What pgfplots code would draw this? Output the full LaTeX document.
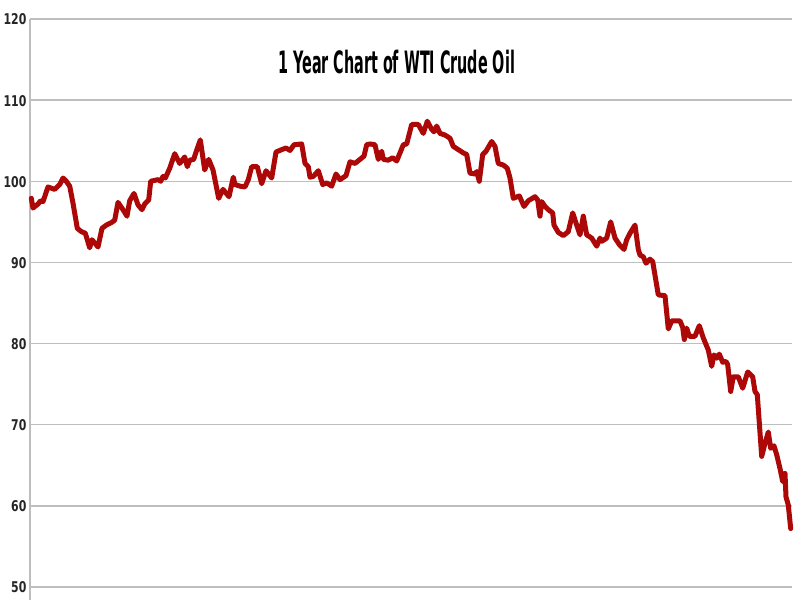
\documentclass[border=0pt]{standalone}
\usepackage{pgfplots}
\pgfplotsset{compat=1.18}
\usepackage{fontspec}
\setmainfont{DejaVu Sans}
\newfontfamily\condfont{DejaVu Sans Condensed}
\definecolor{gridgray}{RGB}{190,190,190}
\definecolor{oilred}{RGB}{172,8,8}
\begin{document}
\begin{tikzpicture}
\begin{axis}[
  scale only axis, width=381pt, height=290.5pt,
  xmin=30, xmax=792, ymin=48.4, ymax=120,
  axis x line=none, axis y line=left,
  y axis line style={-, draw=gridgray, line width=0.75pt},
  ytick={50,60,...,120}, ymajorgrids,
  grid style={gridgray, line width=0.75pt},
  major tick length=0pt,
  /pgf/number format/assume math mode=true,
  yticklabel={\scalebox{0.82}[1]{\pgfmathprintnumber{\tick}}},
  yticklabel style={font=\condfont\bfseries\fontsize{7.4}{8}\selectfont, inner sep=0pt, xshift=-1.6pt, yshift=-0.3pt, text=black!85},
  clip=false,
]
\coordinate (sw) at (rel axis cs:0,0);
\coordinate (ne) at (rel axis cs:1,1);
\addplot[oilred, line width=2.5pt, line join=round, line cap=round] coordinates {
(31.3,97.9)(33,96.7)(38,97.2)(40.7,97.6)(43,97.5)(48,99.3)(54.7,99.0)(59.7,99.6)(63,100.4)(66.3,100.0)(69.7,99.4)(73,97.3)(77.3,94.2)(81.3,93.8)(85.3,93.6)(87.3,92.8)(89.7,91.8)(92,92.8)(94.7,92.4)(98,91.9)(102,94.2)(106.3,94.6)(111.3,94.9)(114.7,95.2)(118,97.4)(123,96.5)(127,95.7)(129.7,97.6)(134,98.5)(138,97.1)(142,96.5)(144.7,97.2)(148.7,97.7)(150.7,100.0)(158,100.2)(160.7,100.0)(163,100.6)(165.3,100.4)(169.7,101.6)(174.7,103.4)(179.7,102.2)(184.7,103.0)(187.3,101.8)(189.7,102.6)(193.7,102.7)(196.3,103.7)(200.3,105.1)(204.7,101.4)(208.7,102.7)(213,101.4)(218.7,97.9)(223,99.0)(229,98.1)
(233.3,100.5)(235,99.6)(240,99.4)(245,99.3)(248.3,100.2)(251.7,101.8)(257.3,101.8)(261.7,99.7)(266,101.3)(271.7,100.4)(276,103.6)(281.7,103.9)(286,104.1)(290,103.8)(294,104.5)(301.7,104.6)(305,102.2)(308.3,101.8)(310,100.5)(313.3,100.6)(318.3,101.3)(322.7,99.6)(326.7,99.8)(331.7,99.4)(336,100.9)(340,100.2)(346,100.7)(350,102.4)(355,102.2)(360,102.7)(364,103.1)(366.7,104.5)(370,104.6)(375,104.5)(378.3,102.7)(381.7,103.7)(383.3,102.7)(388.3,102.6)(392.7,102.9)(396.7,102.5)(400,103.5)(403.3,104.5)(406.7,104.6)(411.7,107.0)(418.3,107.0)(423.3,105.9)(427.3,107.4)(431.7,106.4)
(434,106.1)(436.7,106.8)(440,105.9)(445,105.7)(450,105.3)(453.3,104.3)(458.3,103.9)(463.3,103.5)(466.7,103.3)(468.3,102.2)(470,101.0)(475,100.9)(476.7,101.2)(479.3,100.0)(482.7,103.3)(486,103.7)(491.7,104.9)(495,104.3)(498.3,102.2)(503.3,102.0)(507.3,101.6)(510,100.4)(513.3,97.9)(519.3,98.2)(524,96.9)(528.3,97.6)(535,98.1)(537.7,97.7)(540,95.7)(541.7,97.5)(545,96.9)(548.3,96.5)(552.7,96.1)(554,94.6)(558.3,93.7)(563.3,93.3)(568.3,93.8)(572.7,96.1)(576.7,94.6)(580,93.4)(583.3,95.7)(586.7,93.4)(591.7,93.0)(596.7,92.0)(600,93.0)(601.7,92.6)(606.7,93.0)(610.7,95.0)(615,93.0)(619.3,92.2)(624,91.6)(626.7,92.8)(630,93.6)(635,94.6)(638.3,91.6)
(640,90.9)(643.3,90.7)(646,89.9)(650,90.4)(652.7,90.1)(658.3,86.0)(665,85.9)(668.3,81.8)(671.7,82.8)(680,82.8)(682.7,82.0)(684.3,80.5)(686.7,81.9)(689.3,80.9)(695,80.9)(699.3,82.2)(703.3,80.7)(708.3,79.2)(711.7,77.2)(714,78.6)(716.7,78.2)(719.3,78.7)(722.7,77.7)(726,77.8)(727.7,77.4)(730.7,74.1)(733.3,75.9)(738.3,75.9)(742.7,74.5)(747.7,76.5)(752.7,75.9)(755,74.1)(757.3,73.7)(761.7,66.1)(765,67.7)(768.3,69.1)(770.7,67.1)(774,67.4)(776.7,66.3)(780,64.6)(782.7,63.0)(785,64.0)(786,61.1)(788.3,60.1)(790.7,57.2)
};
\node[anchor=base, inner sep=0pt] at (axis cs:396.7,113.34)
  {\resizebox{118.3pt}{11.7pt}{\condfont\bfseries 1 Year Chart of WTI Crude Oil}};
\end{axis}
\pgfresetboundingbox
\path ([xshift=-15pt]sw) rectangle ([xshift=4pt,yshift=9.5pt]ne);
\end{tikzpicture}
\end{document}
